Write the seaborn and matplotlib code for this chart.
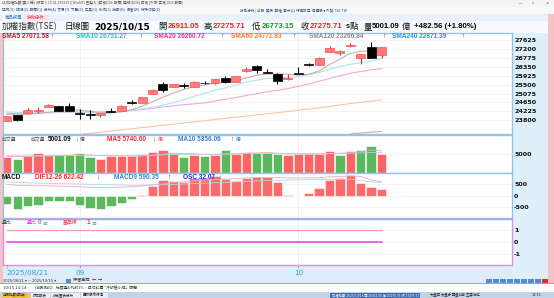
import numpy as np
import pandas as pd
import matplotlib
matplotlib.use("Agg")
import matplotlib.pyplot as plt
import seaborn as sns
from matplotlib.patches import Rectangle

sns.set_theme(style="white")
plt.rcParams['font.family'] = ['DejaVu Sans', 'Noto Sans CJK TC']

# ---------------- data ----------------
dates = ['2025/08/21', '2025/08/22', '2025/08/25', '2025/08/26', '2025/08/27', '2025/08/28', '2025/08/29',
         '2025/09/01', '2025/09/02', '2025/09/03', '2025/09/04', '2025/09/05', '2025/09/08', '2025/09/09',
         '2025/09/10', '2025/09/11', '2025/09/12', '2025/09/15', '2025/09/16', '2025/09/17', '2025/09/18',
         '2025/09/19', '2025/09/22', '2025/09/23', '2025/09/24', '2025/09/25', '2025/09/26', '2025/09/30',
         '2025/10/01', '2025/10/02', '2025/10/03', '2025/10/07', '2025/10/08', '2025/10/09', '2025/10/13',
         '2025/10/14', '2025/10/15']
opens = [23780, 24040, 24135, 24265, 24448, 24482, 24482, 24110, 24060, 24038, 24220, 24243, 24640, 24640,
         25040, 25545, 25388, 25460, 25388, 25570, 25564, 25831, 25626, 26165, 26404, 26089, 26022, 25755,
         26050, 26450, 26451, 27071, 26995, 27360, 26785, 27295, 26911.05]
highs = [24010, 24060, 24372, 24450, 24575, 24500, 24610, 24324, 24290, 24170, 24400, 24510, 24768, 24910,
         25292, 25612, 25530, 25579, 25660, 25660, 25790, 25912, 25930, 26327, 26420, 26260, 26040, 25994,
         26356, 26518, 26800, 27343, 27167, 27486, 26980, 27520, 27275.71]
lows = [23760, 23767, 24120, 24130, 24440, 24230, 24230, 23876, 23847, 23957, 24180, 24230, 24600, 24620,
        25030, 25164, 25370, 25326, 25370, 25540, 25540, 25600, 25610, 26089, 26070, 26040, 25517, 25740,
        26020, 26400, 26440, 27060, 26900, 27281, 26499, 26785, 26773.15]
closes = [23990, 23800, 24305, 24285, 24529, 24243, 24243, 24090, 24040, 24162, 24195, 24496, 24610, 24897,
          25230, 25245, 25516, 25440, 25640, 25555, 25769, 25612, 25912, 26246, 26198, 26055, 25660, 25831,
          26030, 26420, 26785, 27233, 27105, 27390, 26947, 26793.15, 27275.71]
sma5 = [24100, 24060, 24090, 24130, 24182, 24232, 24321, 24278, 24229, 24156, 24146, 24197, 24301, 24472,
        24686, 24896, 25100, 25266, 25414, 25479, 25584, 25603, 25698, 25819, 25947, 26005, 26014, 25998,
        25955, 25999, 26145, 26460, 26715, 26987, 27092, 27094, 27071.58]
sma10 = [24200, 24170, 24160, 24165, 24180, 24190, 24200, 24195, 24180, 24169, 24189, 24259, 24289, 24351,
         24421, 24521, 24648, 24783, 24943, 25082, 25240, 25351, 25482, 25617, 25713, 25794, 25809, 25848,
         25887, 25973, 26075, 26237, 26356, 26471, 26546, 26619, 26751.27]
sma20 = [24120, 24130, 24140, 24150, 24160, 24170, 24180, 24185, 24190, 24195, 24205, 24225, 24260, 24310,
         24370, 24430, 24490, 24540, 24585, 24626, 24715, 24805, 24885, 24984, 25067, 25158, 25228, 25315,
         25415, 25528, 25657, 25794, 25919, 26044, 26129, 26207, 26260.72]
sma60 = [22735, 22790, 22845, 22900, 22955, 23010, 23065, 23120, 23175, 23230, 23285, 23340, 23395, 23450,
         23505, 23560, 23615, 23670, 23725, 23780, 23835, 23890, 23945, 24000, 24055, 24110, 24165, 24220,
         24280, 24340, 24400, 24460, 24530, 24600, 24660, 24715, 24771.83]
sma120_idx = [33, 34, 35, 36]
sma120 = [23150, 23195, 23232, 23266.84]

volume = [4100, 3680, 4370, 5260, 4550, 4550, 4740, 5260, 4100, 3680, 4370, 4370, 4370, 5000, 5340, 5950,
          5000, 4100, 4550, 4370, 4740, 6050, 4900, 5420, 5160, 5160, 5000, 4550, 4900, 4900, 4900, 5680,
          4740, 5680, 6050, 6920, 5001.09]
vol_dir = ['up', 'dn', 'up', 'up', 'up', 'dn', 'dn', 'dn', 'dn', 'up', 'up', 'up', 'up', 'up', 'up', 'up',
           'up', 'dn', 'up', 'dn', 'up', 'dn', 'up', 'up', 'dn', 'dn', 'dn', 'up', 'up', 'up', 'up', 'up',
           'dn', 'up', 'dn', 'dn', 'up']
vma5 = [4300, 4250, 4280, 4400, 4400, 4480, 4600, 4700, 4640, 4470, 4450, 4450, 4300, 4380, 4620, 4900,
        5100, 5080, 4990, 4800, 4700, 4840, 4890, 5090, 5210, 5300, 5140, 4970, 4920, 4900, 4850, 5050,
        5100, 5270, 5530, 6000, 5740.60]
vma10 = [4500, 4450, 4420, 4420, 4450, 4460, 4500, 4560, 4560, 4520, 4480, 4460, 4450, 4500, 4560, 4680,
         4800, 4820, 4820, 4850, 4880, 4950, 5000, 5050, 5100, 5100, 5050, 5000, 4980, 5000, 5050, 5100,
         5110, 5120, 5190, 5300, 5356.06]

osc = [-370, -593, -460, -415, -223, -237, -237, -415, -535, -593, -460, -326, -148, 30, 450, 700, 655,
       610, 776, 776, 890, 730, 670, 776, 850, 820, 620, 30, -30, 135, 330, 700, 780, 910, 580, 400, 300]
dif = [500, 470, 450, 440, 440, 430, 420, 400, 380, 370, 370, 380, 400, 430, 480, 530, 580, 620, 660, 690,
       720, 740, 760, 790, 810, 820, 810, 800, 790, 790, 800, 840, 860, 880, 860, 700, 622.42]
macd9 = [620, 600, 580, 560, 550, 540, 530, 520, 510, 500, 490, 480, 470, 470, 480, 490, 500, 520, 540,
         560, 580, 600, 620, 640, 660, 680, 690, 700, 710, 715, 720, 725, 730, 735, 680, 620, 590.35]

vol_ratio = [0, 0, 0, 0, 0, 0, 0, 0, 0, 0, 0, 0, 0, 0, 0, 0, 0, 0, 0, 0, 0, 0, 0, 0, 0, 0, 0, 0, 0, 0, 0,
             0, 0, 0, 0, 0, 0]
base_line = [1, 1, 1, 1, 1, 1, 1, 1, 1, 1, 1, 1, 1, 1, 1, 1, 1, 1, 1, 1, 1, 1, 1, 1, 1, 1, 1, 1, 1, 1, 1,
             1, 1, 1, 1, 1, 1]

price_ticks = [23800, 24225, 24650, 25075, 25500, 25925, 26350, 26775, 27200, 27625]
date_tick_idx = [0, 7, 28]
date_tick_labels = ['2025/08/21', '09', '10']

# ---------------- layout ----------------
W, H = 554, 298
fig = plt.figure(figsize=(W / 100, H / 100), dpi=100)
fig.patch.set_facecolor('#dcecf8')


def R(x0, y0, x1, y1, color, z=0, **kw):
    fig.add_artist(Rectangle((x0 / W, 1 - y1 / H), (x1 - x0) / W, (y1 - y0) / H,
                             transform=fig.transFigure, facecolor=color, edgecolor='none',
                             zorder=z, **kw))


def T(x, y, s, color='#000000', size=4.7, bold=False, ha='left', fam=None, z=10):
    fam = fam or ['Liberation Sans', 'Noto Sans CJK TC']
    fig.text(x / W, 1 - y / H, s, color=color, fontsize=size,
             fontweight='bold' if bold else 'normal', ha=ha, va='center',
             family=fam, zorder=z)


def AX(x0, y0, x1, y1):
    return fig.add_axes([x0 / W, 1 - y1 / H, (x1 - x0) / W, (y1 - y0) / H])


CJK = ['Noto Sans CJK TC', 'DejaVu Sans']
NUM = ['DejaVu Sans', 'Noto Sans CJK TC']
LIB = ['Liberation Sans', 'Noto Sans CJK TC']
UP, DN = '↑', '↓'

# chrome
R(0, 0, W, 7, '#f4f4f4')
R(0, 7, W, 14, '#f8f8f8')
R(0, 14, W, 21, '#e9f2fb')
R(0, 21, W, 33, '#f7fbfe')
R(0, 33, 2.5, 283, '#f3c4c4')
R(548, 14, W, 283, '#f3c4c4')
R(512, 33, 548, 278, '#e0f0fb')
R(0, 283, W, 284, '#e88a8a')
R(0, 284, W, 292, '#ffffff')
R(0, 292, W, H, '#c3d3e6')
R(2, 292.5, 30, 297.5, '#f2c43c', z=1)
for x0, x1 in [(31, 50), (51, 80), (81, 108)]:
    R(x0, 292.5, x1, 297.5, '#e8eef6', z=1)
R(330, 292.5, 420, 297.5, '#3d6fb0', z=1)
for i, x0 in enumerate(range(486, 548, 7)):
    R(x0, 278.5, x0 + 6, 283, '#4f8fd0' if i < 8 else '#d83030', z=1)

T(2, 3.5, '(A)加權指數(無人總) [版本 5.15.01 250915] [WinNT] 已登入 (正常DDE 報價) 連線(DDE) 正常 (外部:正常 DDE 報價)', '#555555', 2.6, fam=CJK)
T(519, 3.5, '–', '#666666', 4)
T(532, 3.5, '▫', '#666666', 4)
T(546, 3.5, '×', '#666666', 4)
T(2, 10.5, '操作(O)  檢視(V)  報價(Q)  分析(A)  交易(T)  下單(D)  工具(U)  系統(S)  說明(H)  視窗(W)  特殊功能(Z)', '#2a4f8f', 2.6, fam=CJK)
T(240, 10.5, '技術分析 | 台股  美股  期權  警示(1) 行情設定  自選股 ▾ 外資 TSE.TW', '#2a4f8f', 2.6, fam=CJK)
R(3, 14.5, 23, 20.5, '#ffffff', z=1)
R(24, 14.5, 48, 20.5, '#fde3ea', z=1)
T(5, 17.5, '商品搜尋', '#2a6fd0', 3.2, fam=CJK)
T(27, 17.5, '技術分析', '#e0303a', 3.2, fam=CJK)

# header
hy = 26.5
T(2, hy, '加權指數(TSE)', '#333333', 6.2, fam=CJK)
T(65, hy, '日線圖', '#111111', 6.0, fam=CJK)
T(94, hy, '2025/10/15', '#000000', 6.4, True, fam=NUM)
T(158, hy, '開', '#111111', 6.0, fam=CJK)
T(168, hy, '26911.05', '#ff1a1a', 5.6, True, fam=LIB)
T(203, hy, '高', '#111111', 6.0, fam=CJK)
T(213, hy, '27275.71', '#ff1a1a', 5.6, True, fam=LIB)
T(252, hy, '低', '#111111', 6.0, fam=CJK)
T(262, hy, '26773.15', '#1a9a1a', 5.6, True, fam=LIB)
T(301, hy, '收', '#111111', 6.0, fam=CJK)
T(310, hy, '27275.71', '#ff1a1a', 5.6, True, fam=LIB)
T(346, hy, 's', '#111111', 5.2, True, fam=LIB)
T(350, hy, '點', '#111111', 6.0, fam=CJK)
T(364, hy, '量', '#111111', 6.0, fam=CJK)
T(372, hy, '5001.09', '#000000', 5.6, True, fam=LIB)
T(402, hy, '億', '#111111', 6.0, fam=CJK)
T(414, hy, '+482.56 (+1.80%)', '#000000', 5.6, True, fam=LIB)

# ---------------- axes ----------------
XL = (-0.413, 48.53)
ax_p = AX(2.5, 33, 512, 134.5)
ax_v = AX(2.5, 134.5, 512, 172.5)
ax_m = AX(2.5, 172.5, 512, 217.5)
ax_r = AX(2.5, 218.5, 512, 265)

idx = np.arange(len(dates))
blue_edge = '#98c2e6'
for ax in (ax_p, ax_v, ax_m, ax_r):
    ax.set_facecolor('white')
    ax.set_xlim(*XL)
    for sp in ax.spines.values():
        sp.set_color(blue_edge)
        sp.set_linewidth(1.0)
    for xi in date_tick_idx[1:]:
        ax.axvline(xi, color='#ececec', lw=0.6, zorder=0)
for sp in ax_r.spines.values():
    sp.set_color('#e58be5')

# price panel
ax_p.set_ylim(23122, 27963)
for t in price_ticks:
    ax_p.axhline(t, color='#f0f0f0', lw=0.5, zorder=0)
df_ma = pd.DataFrame({'i': idx, 'sma5': sma5, 'sma10': sma10, 'sma20': sma20, 'sma60': sma60})
for col, c in [('sma60', '#f9c3a6'), ('sma20', '#f3a6e3'), ('sma10', '#a6e8ea'), ('sma5', '#d4aaa8')]:
    sns.lineplot(data=df_ma, x='i', y=col, color=c, lw=0.8, ax=ax_p, zorder=2)
sns.lineplot(x=sma120_idx, y=sma120, color='#c8b0a8', lw=0.8, ax=ax_p, zorder=2)

o = np.array(opens); c = np.array(closes); h = np.array(highs); l = np.array(lows)
up = c >= o
body_lo = np.minimum(o, c)
body_h = np.maximum(np.abs(c - o), 45)
ax_p.vlines(idx[up], l[up], h[up], color='#ff2020', lw=0.8, zorder=3)
ax_p.vlines(idx[~up], l[~up], h[~up], color='#000000', lw=0.8, zorder=3)
ax_p.bar(idx[up], body_h[up], bottom=body_lo[up], width=0.86, color='#ff7a7a',
         edgecolor='#ff5050', lw=0.5, zorder=4)
ax_p.bar(idx[~up], body_h[~up], bottom=body_lo[~up], width=0.86, color='#000000',
         edgecolor='#000000', lw=0.5, zorder=4)

# volume panel
df_v = pd.DataFrame({'i': idx, 'vol': volume, 'dir': vol_dir})
sns.barplot(data=df_v, x='i', y='vol', hue='dir', palette={'up': '#ff6464', 'dn': '#5cb85c'},
            native_scale=True, width=0.9, legend=False, ax=ax_v, edgecolor='#ffffff', linewidth=0.4,
            saturation=1, zorder=2)
sns.lineplot(x=idx, y=vma5, color='#f3a8a8', lw=0.6, ax=ax_v, zorder=3)
sns.lineplot(x=idx, y=vma10, color='#a8d4ee', lw=0.6, ax=ax_v, zorder=3)
ax_v.set_ylim(0, 10110)
ax_v.axhline(5000, color='#f0f0f0', lw=0.5, zorder=0)

# MACD panel
df_m = pd.DataFrame({'i': idx, 'osc': osc, 'sgn': ['p' if v >= 0 else 'n' for v in osc]})
sns.barplot(data=df_m, x='i', y='osc', hue='sgn', palette={'p': '#ff6a6a', 'n': '#5cb85c'},
            native_scale=True, width=0.9, legend=False, ax=ax_m, edgecolor='#ffffff', linewidth=0.4,
            saturation=1, zorder=2)
sns.lineplot(x=idx, y=dif, color='#f2a8b8', lw=0.6, ax=ax_m, zorder=3)
sns.lineplot(x=idx, y=macd9, color='#a8d8ee', lw=0.6, ax=ax_m, zorder=3)
ax_m.set_ylim(-972, 1035)
for t in (-500, 0, 500):
    ax_m.axhline(t, color='#f0f0f0', lw=0.5, zorder=0)

# ratio panel
sns.lineplot(x=idx, y=base_line, color='#f4a0a0', lw=0.9, ax=ax_r, zorder=3)
sns.lineplot(x=idx, y=vol_ratio, color='#f060f0', lw=1.4, ax=ax_r, zorder=3)
ax_r.set_ylim(-1.93, 2.0)
for t in (-1, 0, 1):
    ax_r.axhline(t, color='#f0f0f0', lw=0.5, zorder=0)

# ticks
for ax, ticks, labels in [(ax_p, price_ticks, [str(t) for t in price_ticks]),
                          (ax_v, [5000], ['5000']),
                          (ax_m, [-500, 0, 500], ['-500', '0', '500']),
                          (ax_r, [-1, 0, 1], ['-1', '0', '1'])]:
    ax.set_xlabel('')
    ax.set_ylabel('')
    ax.yaxis.tick_right()
    ax.set_yticks(ticks)
    ax.set_yticklabels(labels, fontsize=4.6, fontweight='bold', family='DejaVu Sans', color='#111111')
    ax.tick_params(axis='y', length=0, pad=1.5)
    ax.set_xticks([])
    ax.set_xlim(*XL)

ax_r.set_xticks(date_tick_idx)
ax_r.set_xticklabels(date_tick_labels, fontsize=5.2, color='#3a9ade', family='DejaVu Sans')
ax_r.tick_params(axis='x', length=2.2, width=0.8, color='#7fbde8', pad=1.2, bottom=True)
first = ax_r.get_xticklabels()[0]
first.set_horizontalalignment('left')
first.set_x(-0.45)

# panel titles
sy = 36.5
T(2, sy, 'SMA5 27071.58', '#a52424', 4.7, True)
T(50, sy, UP, '#ff0000', 4.7, True, fam=LIB)
T(76, sy, 'SMA10 26751.27', '#1ec6c6', 4.7, True)
T(139, sy, UP, '#ff0000', 4.7, True, fam=LIB)
T(154, sy, 'SMA20 26260.72', '#e0309a', 4.7, True)
T(220, sy, UP, '#ff0000', 4.7, True, fam=LIB)
T(231, sy, 'SMA60 24771.83', '#ff7a2a', 4.7, True)
T(292, sy, UP, '#ff0000', 4.7, True, fam=LIB)
T(309, sy, 'SMA120 23266.84', '#8a8a8a', 4.7, True)
T(382, sy, UP, '#ff0000', 4.7, True, fam=LIB)
T(392, sy, 'SMA240 22871.39', '#2f95e6', 4.7, True)
T(461, sy, UP, '#ff0000', 4.7, True, fam=LIB)

vy = 139.5
T(2, vy, '成交量', '#555555', 3.5, fam=CJK)
T(31, vy, '成交量', '#555555', 3.5, fam=CJK)
T(48, vy, '5001.09', '#111111', 4.7, True)
T(75, vy, DN, '#1a9a1a', 4.7, True, fam=LIB)
T(79.5, vy, '億', '#555555', 3.5, fam=CJK)
T(107, vy, 'MA5 5740.60', '#ff2a2a', 4.7, True)
T(152.5, vy, DN, '#1a9a1a', 4.7, True, fam=LIB)
T(157.5, vy, '億', '#ff5050', 3.5, fam=CJK)
T(177.5, vy, 'MA10 5356.06', '#3a80cc', 4.7, True)
T(230.5, vy, UP, '#ff0000', 4.7, True, fam=LIB)
T(235.5, vy, '億', '#3a80cc', 3.5, fam=CJK)

my = 177.5
T(2, my, 'MACD', '#111111', 4.7, True)
T(35, my, 'DIF12-26 622.42', '#ff2a2a', 4.7, True)
T(96.5, my, DN, '#1a9a1a', 4.7, True, fam=LIB)
T(114, my, 'MACD9 590.35', '#3a80cc', 4.7, True)
T(167.5, my, UP, '#ff0000', 4.7, True, fam=LIB)
T(183, my, 'OSC 32.07', '#2626ee', 4.7, True)
T(218.5, my, DN, '#1a9a1a', 4.7, True, fam=LIB)

ry = 222.5
T(2, ry, '量比', '#555555', 3.5, fam=CJK)
T(27, ry, '量比', '#f040f0', 3.5, fam=CJK)
T(38, ry, '0', '#f040f0', 4.7, True)
T(42, ry, '≡', '#777777', 4.2, fam=NUM)
T(63, ry, '基準線', '#ff3030', 3.5, fam=CJK)
T(86.5, ry, '1', '#ff3030', 4.7, True)
T(91, ry, '≡', '#777777', 4.2, fam=NUM)

# date range controls & status
T(3, 280.5, '2025/08/21 ▾ ~ 2025/10/15 ▾', '#333333', 2.6, fam=NUM)
R(66, 278.5, 71, 282.8, '#4f8fd0', z=1)
T(73, 280.5, '保留空間   ←  →', '#333333', 3.0, fam=CJK)
T(3, 288, '10/15 14:14', '#333333', 2.8, fam=NUM)
T(33, 288, '《A股測試》 比照過A 利於1%，成功訂單 "冷卻總小結」時間', '#333333', 2.8, fam=CJK)
T(3, 295, '台股指數(期貨)', '#222222', 2.5, fam=CJK)
T(33, 295, '評估報表', '#222222', 2.5, fam=CJK)
T(53, 295, '技術圖表分析', '#222222', 2.5, fam=CJK)
T(83, 295, '國際股市行情', '#222222', 2.5, fam=CJK)
T(332, 295, '加權指數 2025/10/15 開 26911.05 高 27275.71 收 27275.71', '#ffffff', 2.4, fam=CJK)
T(430, 295, '大盤成 大盤分 開盤判斷 主要功能', '#222222', 2.4, fam=CJK)
T(532, 295, '14:15', '#222222', 2.4, fam=NUM)

fig.savefig('out.png', dpi=100, facecolor=fig.get_facecolor())
